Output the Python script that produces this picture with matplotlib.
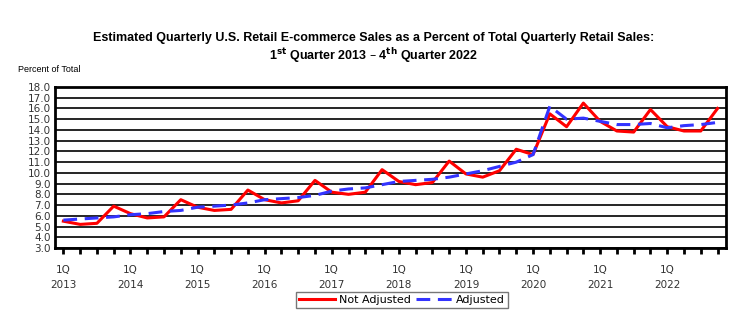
import matplotlib
matplotlib.use("Agg")
import matplotlib.pyplot as plt

years = list(range(2013, 2023))
quarters = ["1Q", "2Q", "3Q", "4Q"]

not_adjusted = [5.5, 5.2, 5.3, 6.9,
                6.2, 5.8, 5.9, 7.5,
                6.8, 6.5, 6.6, 8.4,
                7.5, 7.2, 7.4, 9.3,
                8.2, 8.0, 8.2, 10.3,
                9.2, 8.9, 9.1, 11.1,
                9.9, 9.6, 10.2, 12.2,
                11.7, 15.5, 14.3, 16.5,
                14.8, 13.9, 13.8, 15.9,
                14.3, 13.9, 13.9, 16.0]

adjusted = [5.6, 5.7, 5.8, 5.9,
            6.1, 6.2, 6.4, 6.5,
            6.8, 6.9, 7.0, 7.2,
            7.5, 7.6, 7.7, 7.9,
            8.3, 8.5, 8.6, 8.9,
            9.2, 9.3, 9.4, 9.6,
            9.9, 10.2, 10.6, 11.0,
            11.7, 16.2, 15.0, 15.1,
            14.8, 14.5, 14.5, 14.6,
            14.2, 14.4, 14.5, 14.7]

x = list(range(len(not_adjusted)))
xlabels = [f"{q}\n{y}" if q == "1Q" else "" for y in years for q in quarters]

fig = plt.figure(figsize=(7.48, 3.21), dpi=100)
ax = fig.add_axes([0.0735, 0.2274, 0.897, 0.5016])

ax.plot(x, not_adjusted, color="#ff0000", lw=2.2, label="Not Adjusted", zorder=3)
ax.plot(x, adjusted, color="#3333ff", lw=2.2, dashes=(4.5, 2.5), label="Adjusted", zorder=3)

ax.set_xlim(-0.5, 39.5)
ax.set_ylim(3, 18)
ax.set_yticks([v for v in range(3, 19)])
ax.set_yticklabels([f"{v:.1f}" for v in range(3, 19)], fontsize=7.5, color="#333333")
ax.yaxis.grid(True, color="black", lw=1.2)
ax.set_axisbelow(True)
ax.tick_params(axis="y", length=0, pad=3)

ax.set_xticks(x)
ax.set_xticklabels(xlabels, fontsize=7.5, linespacing=1.7, color="#333333")
ax.tick_params(axis="x", direction="out", length=4, width=2, pad=8)

for s in ax.spines.values():
    s.set_linewidth(2)

fig.text(0.5, 0.883, "Estimated Quarterly U.S. Retail E-commerce Sales as a Percent of Total Quarterly Retail Sales:",
         ha="center", va="center", fontsize=9, fontweight="bold", family="Liberation Sans")
fig.text(0.5, 0.828, r"1$^{\mathbf{st}}$ Quarter 2013 – 4$^{\mathbf{th}}$ Quarter 2022",
         ha="center", va="center", fontsize=9, fontweight="bold", family="Liberation Sans")
fig.text(0.024, 0.782, "Percent of Total", ha="left", va="center", fontsize=6.5,
         family="Liberation Sans")

leg = fig.legend(loc="center", bbox_to_anchor=(0.537, 0.066), ncol=2, fontsize=8,
                 frameon=True, fancybox=False, handlelength=3.3, columnspacing=0.5,
                 handletextpad=0.3, borderpad=0.25)
leg.get_frame().set_edgecolor("#555555")
leg.get_frame().set_linewidth(1)

fig.savefig("out.png", dpi=100)
